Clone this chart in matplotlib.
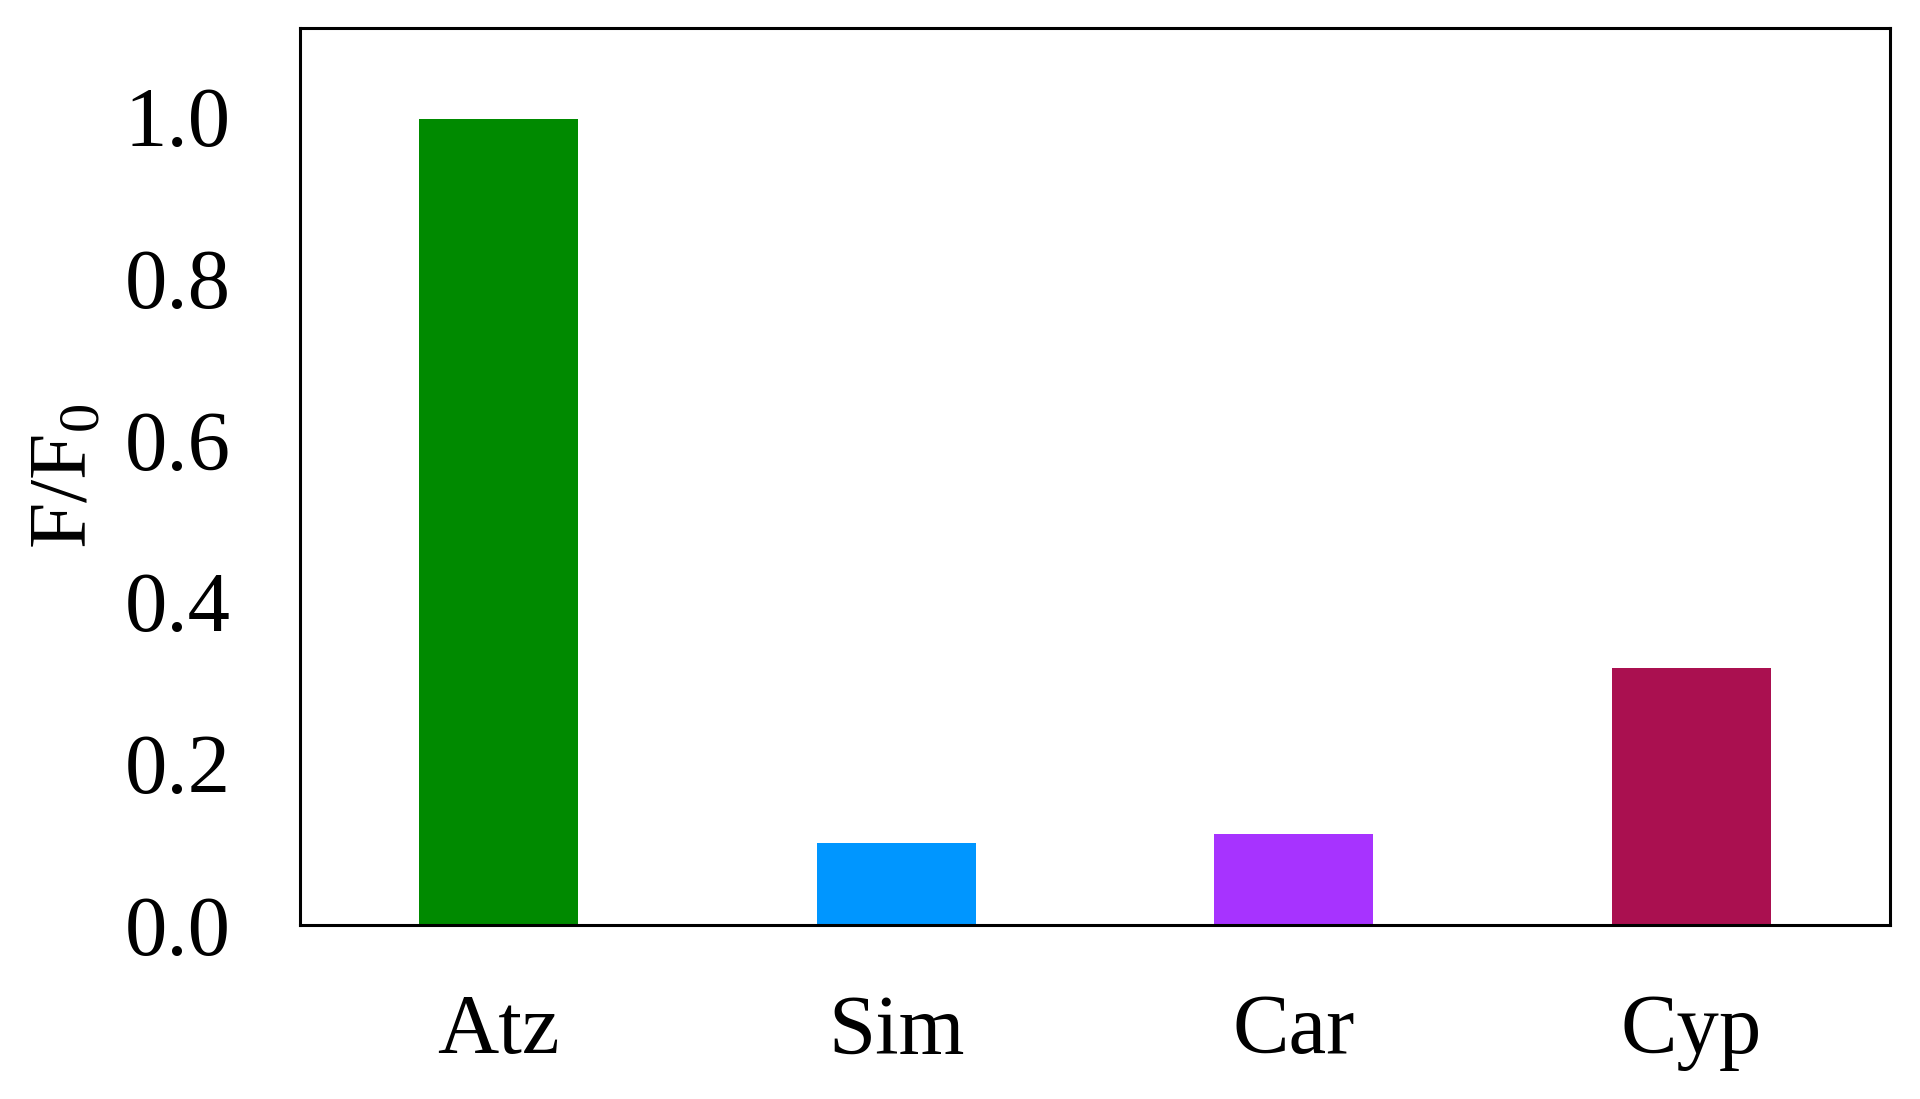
import matplotlib
matplotlib.use("Agg")
from matplotlib import pyplot as plt
import numpy as np

# values
herbicides = ["Atz", "Sim", "Car", "Cyp"]
ratio = [0.997, 0.102, 0.112, 0.318]
barColors = ["#008a00", "#0096ff", "#a733ff", "#aa1050"]
yTicks = [0.0, 0.2, 0.4, 0.6, 0.8, 1.0]

plt.rcParams['font.family'] = ['Liberation Serif', 'DejaVu Serif']
plt.rcParams['mathtext.fontset'] = 'custom'
plt.rcParams['mathtext.rm'] = 'Liberation Serif'

fig = plt.figure(figsize=(19.2, 10.99), dpi=100)
ax = fig.add_axes([300 / 1920, 1 - 925 / 1099, 1590 / 1920, 897 / 1099])

x = np.arange(len(herbicides))
ax.bar(x, ratio, width=0.4, color=barColors)

ax.set_xlim(-0.5, len(herbicides) - 0.5)
ax.set_ylim(0, 1.11)
ax.set_xticks(x)
ax.set_xticklabels(herbicides)
ax.set_yticks(yTicks)
ax.set_yticklabels([f"{v:.1f}" for v in yTicks])
ax.tick_params(axis='both', length=0, labelsize=61)
ax.tick_params(axis='y', pad=50)
ax.tick_params(axis='x', pad=50)

for s in ax.spines.values():
    s.set_linewidth(2.2)

ax.set_ylabel(r"F/F$_\mathregular{0}$", fontsize=60, labelpad=15)

fig.savefig("out.png", dpi=100)
